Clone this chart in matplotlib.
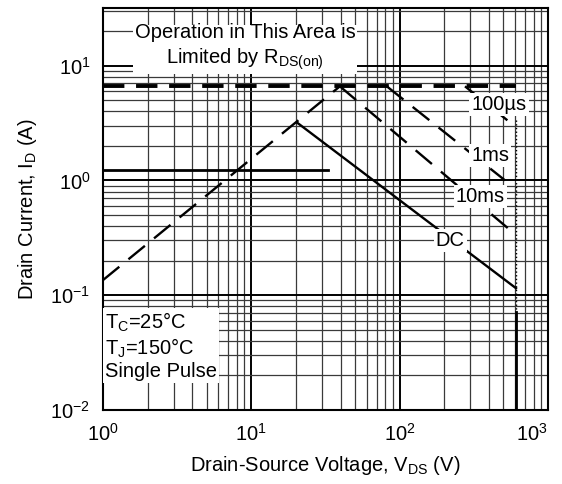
import matplotlib.pyplot as plt
from matplotlib.ticker import LogLocator, NullFormatter

plt.rcParams['font.family'] = ['Liberation Sans', 'DejaVu Sans']
plt.rcParams['mathtext.fontset'] = 'custom'
plt.rcParams['mathtext.rm'] = 'Liberation Sans'
plt.rcParams['mathtext.it'] = 'Liberation Sans'

# SOA curves (V, A)
rds_v = [1.0, 39.6]
rds_i = [0.135, 6.6]
idm_v = [1.0, 610]
idm_i = [6.6, 6.6]
us100_v = [276, 555]
us100_i = [6.6, 3.2]
ms1_v = [82, 514]
ms1_i = [6.6, 1.0]
ms10_v = [39.6, 555]
ms10_i = [6.6, 0.37]
dc_v = [20.3, 609]
dc_i = [3.2, 0.115]
flat_v = [1.0, 32.9]
flat_i = [1.23, 1.23]
bv_v = 609
bv_dot_i = [3.34, 0.071]
bv_solid_i = [0.071, 0.01]

x_ticks = [1, 10, 100, 1000]
y_ticks = [0.01, 0.1, 1, 10]

fig = plt.figure(figsize=(5.62, 4.84), dpi=100)
ax = fig.add_axes([0.183, 0.153, 0.792, 0.830])
ax.set_xscale('log')
ax.set_yscale('log')
ax.set_xlim(1, 1000)
ax.set_ylim(0.01, 10 ** 1.5)

ax.set_xticks(x_ticks)
ax.set_yticks(y_ticks)
ax.xaxis.set_minor_locator(LogLocator(base=10, subs=range(2, 10), numticks=20))
ax.yaxis.set_minor_locator(LogLocator(base=10, subs=range(2, 10), numticks=20))
ax.xaxis.set_minor_formatter(NullFormatter())
ax.yaxis.set_minor_formatter(NullFormatter())
ax.grid(which='major', color='black', lw=1.4)
ax.grid(which='minor', color='#3a3a3a', lw=0.9)
ax.tick_params(which='both', length=0, labelsize=14.5, pad=9)
for s in ax.spines.values():
    s.set_linewidth(1.5)
ax.get_xticklabels()[-1].set_ha('right')

ax.plot(rds_v, rds_i, color='black', lw=1.7, dashes=(9, 5), zorder=3)
ax.plot(idm_v, idm_i, color='black', lw=2.8, dashes=(5.5, 3), zorder=3)
ax.plot(us100_v, us100_i, color='black', lw=1.7, dashes=(9, 5), zorder=3)
ax.plot(ms1_v, ms1_i, color='black', lw=1.7, dashes=(9, 5), zorder=3)
ax.plot(ms10_v, ms10_i, color='black', lw=1.7, dashes=(9, 5), zorder=3)
ax.plot(dc_v, dc_i, color='black', lw=1.7, zorder=3)
ax.plot(flat_v, flat_i, color='black', lw=2.0, zorder=3)
ax.plot([bv_v, bv_v], bv_dot_i, color='black', lw=1.0, ls=':', zorder=3)
ax.plot([bv_v, bv_v], bv_solid_i, color='black', lw=2.0, zorder=3)

box = dict(facecolor='white', edgecolor='none', pad=1.5)
ax.text(9.07, 14.4, 'Operation in This Area is\nLimited by R$_\\mathregular{DS(on)}$',
        ha='center', va='center', fontsize=14.5, linespacing=1.25, bbox=box, zorder=5)
ax.text(468, 4.6, '100µs', ha='center', va='center', fontsize=14.5, bbox=box, zorder=5)
ax.text(407, 1.66, '1ms', ha='center', va='center', fontsize=14.5, bbox=box, zorder=5)
ax.text(349, 0.73, '10ms', ha='center', va='center', fontsize=14.5, bbox=box, zorder=5)
ax.text(219, 0.30, 'DC', ha='center', va='center', fontsize=14.5, bbox=box, zorder=5)
ax.text(1.03, 0.036, 'T$_\\mathregular{C}$=25°C\nT$_\\mathregular{J}$=150°C\nSingle Pulse',
        ha='left', va='center', fontsize=14.5, linespacing=1.15, bbox=box, zorder=5)

ax.set_xlabel('Drain-Source Voltage, V$_\\mathregular{DS}$ (V)', fontsize=14.5, labelpad=7)
ax.set_ylabel('Drain Current, I$_\\mathregular{D}$ (A)', fontsize=14.5, labelpad=8)

fig.savefig('out.png', dpi=100)
